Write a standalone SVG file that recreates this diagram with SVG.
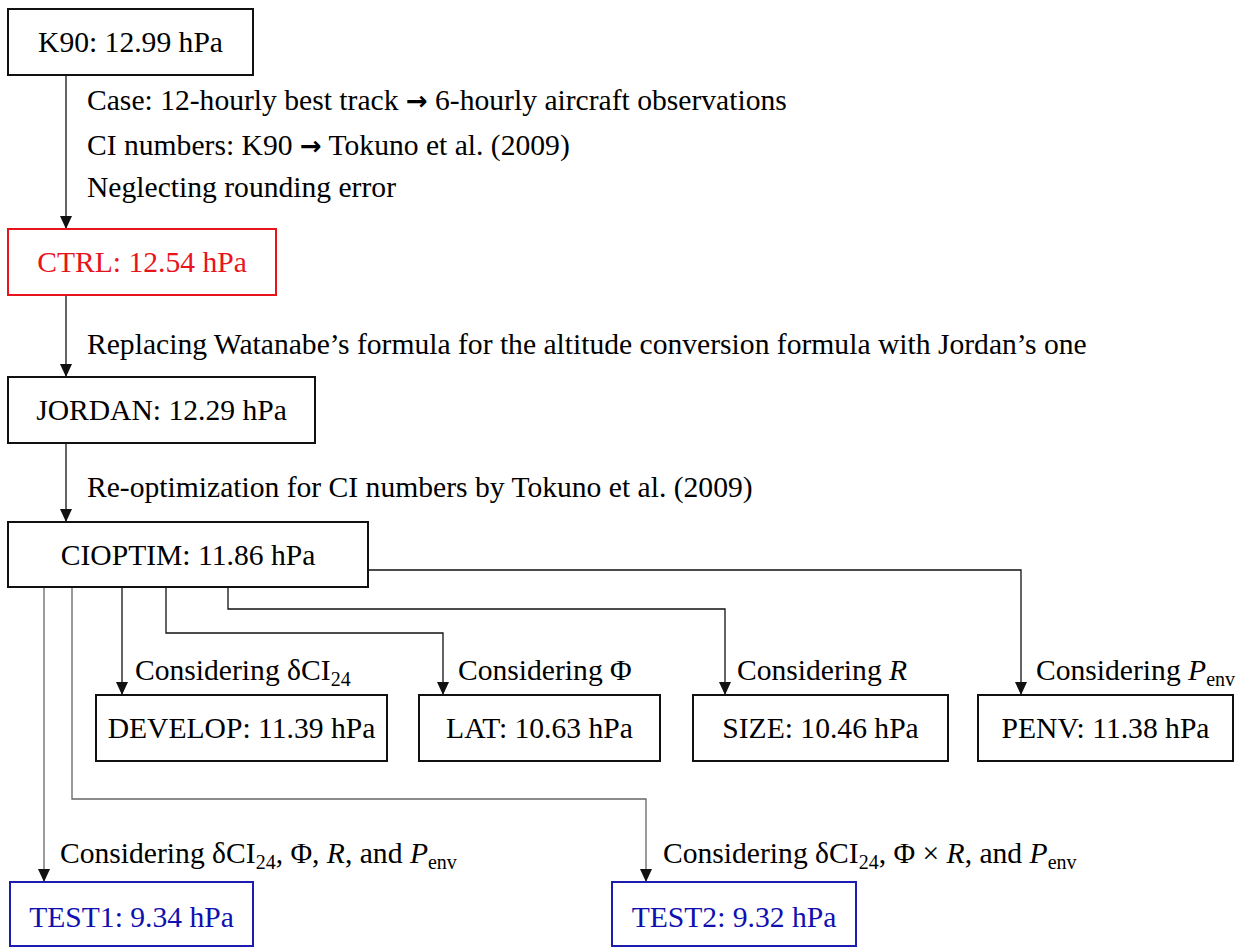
<svg xmlns="http://www.w3.org/2000/svg" width="1243" height="948" viewBox="0 0 1243 948">
<style>
text{font-family:"Liberation Serif","Times New Roman",serif;font-size:29.6px;fill:#000}
.box rect{fill:#fff;stroke:#111;stroke-width:2}
.box text{text-anchor:middle}
.red rect{stroke:#e8141c}.red text{fill:#e8141c}
.blue rect{stroke:#1c1cb0}.blue text{fill:#1010b0}
.conn path{fill:none;stroke:#111;stroke-width:1.3}
.conn path.g{stroke:#666}
.sub{font-size:20px}
.arr{font-family:"DejaVu Sans",sans-serif;font-weight:bold;font-size:26px}
</style>
<defs>
<marker id="dn" viewBox="0 0 12 13" refX="6" refY="13" markerWidth="12" markerHeight="13" markerUnits="userSpaceOnUse" orient="0">
<path d="M0,0 L12,0 L6,13 Z" fill="#111"/>
</marker>
</defs>
<g class="conn">
<path d="M66,75 V229" marker-end="url(#dn)"/>
<path d="M66,295 V377" marker-end="url(#dn)"/>
<path d="M66,443 V522" marker-end="url(#dn)"/>
<path d="M122,587 V695" marker-end="url(#dn)"/>
<path d="M166,587 V633 H443 V695" marker-end="url(#dn)"/>
<path d="M228,587 V609 H725 V695" marker-end="url(#dn)"/>
<path d="M368,570 H1021 V695" marker-end="url(#dn)"/>
<path class="g" d="M44,587 V882" marker-end="url(#dn)"/>
<path class="g" d="M72,587 V799 H646 V882" marker-end="url(#dn)"/>
</g>
<g id="labels">
<text x="87" y="110">Case: 12-hourly best track <tspan class="arr">→</tspan> 6-hourly aircraft observations</text>
<text x="87" y="155">CI numbers: K90 <tspan class="arr">→</tspan> Tokuno et al. (2009)</text>
<text x="87" y="197">Neglecting rounding error</text>
<text x="87" y="354">Replacing Watanabe’s formula for the altitude conversion formula with Jordan’s one</text>
<text x="87" y="497">Re-optimization for CI numbers by Tokuno et al. (2009)</text>
<text x="135" y="680">Considering δCI<tspan class="sub" dy="6">24</tspan></text>
<text x="458" y="680">Considering Φ</text>
<text x="737" y="680">Considering <tspan font-style="italic">R</tspan></text>
<text x="1036" y="680">Considering <tspan font-style="italic">P</tspan><tspan class="sub" dy="6">env</tspan></text>
<text x="60" y="863">Considering δCI<tspan class="sub" dy="6">24</tspan><tspan dy="-6">, Φ, </tspan><tspan font-style="italic">R</tspan>, and <tspan font-style="italic">P</tspan><tspan class="sub" dy="6">env</tspan></text>
<text x="663" y="863">Considering δCI<tspan class="sub" dy="6">24</tspan><tspan dy="-6">, Φ × </tspan><tspan font-style="italic">R</tspan>, and <tspan font-style="italic">P</tspan><tspan class="sub" dy="6">env</tspan></text>
</g>
<g id="k90" class="box"><rect x="8" y="9" width="245" height="66"/><text x="130.5" y="52">K90: 12.99 hPa</text></g>
<g id="ctrl" class="box red"><rect x="8" y="229" width="268" height="66"/><text x="142" y="272">CTRL: 12.54 hPa</text></g>
<g id="jordan" class="box"><rect x="8" y="377" width="307" height="66"/><text x="161.5" y="420">JORDAN: 12.29 hPa</text></g>
<g id="cioptim" class="box"><rect x="8" y="522" width="360" height="65"/><text x="188" y="565">CIOPTIM: 11.86 hPa</text></g>
<g id="develop" class="box"><rect x="96" y="695" width="291" height="66"/><text x="241.5" y="738">DEVELOP: 11.39 hPa</text></g>
<g id="lat" class="box"><rect x="419" y="695" width="241" height="66"/><text x="539.5" y="738">LAT: 10.63 hPa</text></g>
<g id="size" class="box"><rect x="693" y="695" width="255" height="66"/><text x="820.5" y="738">SIZE: 10.46 hPa</text></g>
<g id="penv" class="box"><rect x="978" y="695" width="255" height="66"/><text x="1105.5" y="738">PENV: 11.38 hPa</text></g>
<g id="test1" class="box blue"><rect x="10" y="882" width="243" height="64"/><text x="131.5" y="927">TEST1: 9.34 hPa</text></g>
<g id="test2" class="box blue"><rect x="612" y="882" width="244" height="64"/><text x="734" y="927">TEST2: 9.32 hPa</text></g>
</svg>
